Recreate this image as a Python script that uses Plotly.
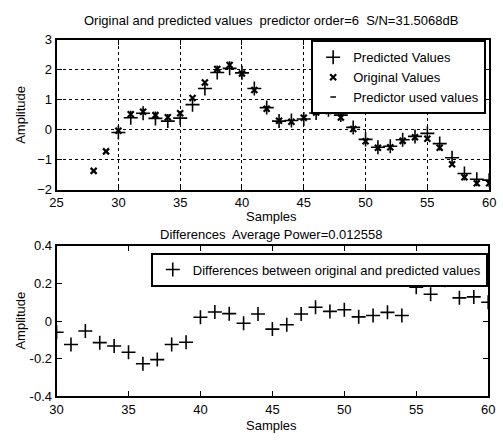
import plotly.graph_objects as go

orig_x = list(range(28, 61))
orig_y = [-1.37, -0.72, -0.03, 0.52, 0.60, 0.49, 0.42, 0.55, 1.06, 1.58, 2.03, 2.16, 1.88,
          1.33, 0.70, 0.30, 0.27, 0.40, 0.58, 0.63, 0.41, 0.03, -0.38, -0.60, -0.58, -0.37,
          -0.25, -0.30, -0.60, -1.15, -1.58, -1.78, -1.78]
pred_x = list(range(30, 61))
pred_y = [-0.09, 0.40, 0.55, 0.38, 0.29, 0.39, 0.84, 1.38, 1.91, 2.05, 1.90, 1.38, 0.74,
          0.29, 0.31, 0.36, 0.56, 0.67, 0.49, 0.08, -0.32, -0.58, -0.55, -0.33, -0.22,
          -0.12, -0.46, -0.93, -1.46, -1.65, -1.68]
diff_x = list(range(30, 61))
diff_y = [-0.06, -0.125, -0.053, -0.115, -0.133, -0.166, -0.227, -0.205, -0.125, -0.113,
          0.02, 0.048, 0.039, -0.012, 0.037, -0.043, -0.02, 0.037, 0.073, 0.051, 0.06,
          0.022, 0.029, 0.046, 0.029, 0.179, 0.142, 0.217, 0.123, 0.128, 0.10]

top_title = "Original and predicted values  predictor order=6  S/N=31.5068dB"
bot_title = "Differences  Average Power=0.012558"
FONT = "Liberation Sans, Arial, sans-serif"

fig = go.Figure()
fig.add_trace(go.Scatter(x=pred_x, y=pred_y, mode="markers", name="Predicted Values",
                         marker=dict(symbol="cross-thin-open", size=10, color="black",
                                     line=dict(color="black", width=1.6)),
                         xaxis="x", yaxis="y", legend="legend"))
fig.add_trace(go.Scatter(x=orig_x, y=orig_y, mode="markers", name="Original Values",
                         marker=dict(symbol="x-thin-open", size=6, color="black",
                                     line=dict(color="black", width=2.2)),
                         xaxis="x", yaxis="y", legend="legend"))
fig.add_trace(go.Scatter(x=[None], y=[None], mode="markers", name="Predictor used values",
                         marker=dict(symbol="line-ew-open", size=4, color="black",
                                     line=dict(color="black", width=1.5)),
                         xaxis="x", yaxis="y", legend="legend"))
fig.add_trace(go.Scatter(x=diff_x, y=diff_y, mode="markers",
                         name="Differences between original and predicted values",
                         marker=dict(symbol="cross-thin-open", size=10, color="black",
                                     line=dict(color="black", width=1.6)),
                         xaxis="x2", yaxis="y2", legend="legend2"))

axis_common = dict(showline=True, linecolor="black", linewidth=2, mirror="allticks",
                   ticks="inside", ticklen=5, tickwidth=1.2, tickcolor="black",
                   tickfont=dict(family=FONT, size=13, color="black"), zeroline=False)

fig.update_layout(
    width=503, height=442,
    margin=dict(l=0, r=0, t=0, b=0),
    paper_bgcolor="white", plot_bgcolor="white",
    showlegend=True,
    xaxis=dict(domain=[0.1014, 0.986], range=[25, 60], tickvals=[25, 30, 35, 40, 45, 50, 55, 60],
               showgrid=True, gridcolor="black", griddash="dot", gridwidth=1, anchor="y",
               **axis_common),
    yaxis=dict(domain=[0.572, 0.923], range=[-2, 3], tickvals=[-2, -1, 0, 1, 2, 3],
               showgrid=True, gridcolor="black", griddash="dot", gridwidth=1, anchor="x",
               **axis_common),
    xaxis2=dict(domain=[0.1014, 0.984], range=[30, 60], tickvals=[30, 35, 40, 45, 50, 55, 60],
                showgrid=False, anchor="y2", **axis_common),
    yaxis2=dict(domain=[0.0882, 0.441], range=[-0.4, 0.4], tickvals=[-0.4, -0.2, 0, 0.2, 0.4],
                ticktext=["-0.4", "-0.2", "0", "0.2", "0.4"],
                showgrid=False, anchor="x2", **axis_common),
    legend=dict(x=0.622, y=0.922, xanchor="left", yanchor="top", bgcolor="white",
                bordercolor="black", borderwidth=2, font=dict(family=FONT, size=13, color="black"),
                tracegroupgap=0, itemsizing="trace"),
    legend2=dict(x=0.294, y=0.425, xanchor="left", yanchor="top", bgcolor="white",
                 bordercolor="black", borderwidth=2, font=dict(family=FONT, size=13, color="black")),
    annotations=[
        dict(text=top_title, x=0.54, y=1 - 14 / 442),
        dict(text="Samples", x=0.54, y=1 - 217 / 442),
        dict(text="Amplitude", x=14 / 503, y=1 - 112 / 442, textangle=-90),
        dict(text=bot_title, x=0.54, y=1 - 235 / 442),
        dict(text="Samples", x=0.54, y=1 - 433 / 442),
        dict(text="Amplitude", x=14 / 503, y=1 - 325 / 442, textangle=-90),
    ],
)
fig.update_annotations(xref="paper", yref="paper", showarrow=False, xanchor="center",
                       yanchor="middle", font=dict(family=FONT, size=13, color="black"))

fig.write_html("out.html")
